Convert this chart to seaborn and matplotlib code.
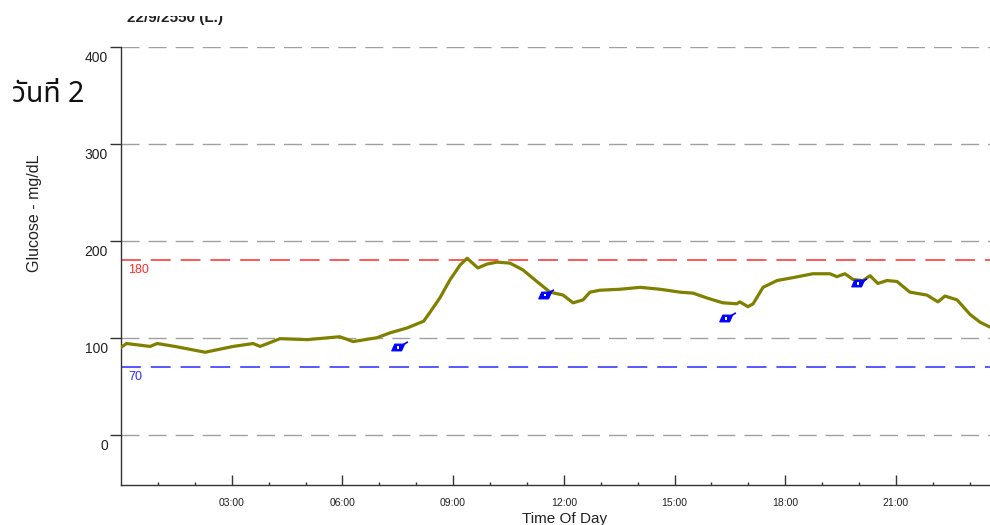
import numpy as np
import pandas as pd
import matplotlib
matplotlib.use("Agg")
import matplotlib.pyplot as plt
import matplotlib.transforms as mtransforms
from matplotlib.path import Path
from matplotlib.patches import Rectangle
import seaborn as sns

# ---- data ----
hours = [0.00, 0.15, 0.79, 0.98, 1.46, 2.28, 3.04, 3.58, 3.77, 4.31, 5.04, 5.93,
         6.29, 6.94, 7.29, 7.75, 8.20, 8.37, 8.64, 8.92, 9.19, 9.38, 9.67, 9.92,
         10.19, 10.54, 10.89, 11.27, 11.63, 11.98, 12.25, 12.52, 12.71, 12.98,
         13.52, 14.07, 14.61, 15.15, 15.50, 15.88, 16.31, 16.69, 16.77, 16.99,
         17.13, 17.40, 17.78, 18.21, 18.75, 19.21, 19.40, 19.62, 19.84, 20.11,
         20.30, 20.51, 20.76, 21.03, 21.38, 21.84, 22.14, 22.33, 22.66, 23.01,
         23.28, 23.55]
glucose = [90, 94, 91, 94, 91, 85, 91, 94, 91, 99, 98, 101,
           96, 100, 105, 110, 117, 126, 141, 160, 175, 182, 172, 176,
           178, 177, 170, 158, 147, 144, 136, 139, 147, 149,
           150, 152, 150, 147, 146, 141, 136, 135, 137, 132,
           135, 152, 159, 162, 166, 166, 163, 166, 160, 159,
           164, 156, 159, 158, 147, 144, 137, 143, 139, 124,
           116, 111]

event_hours = [7.51, 11.49, 16.40, 19.97]
event_glucose = [90, 144, 120, 156]

grid_levels = [0, 100, 200, 300, 400]
yticks = [0, 100, 200, 300, 400]
xtick_hours = [3, 6, 9, 12, 15, 18, 21]
xtick_labels = ["03:00", "06:00", "09:00", "12:00", "15:00", "18:00", "21:00"]
high_limit = 180
low_limit = 70

title_text = "22/9/2550 (L.)"
day_text = "วันที่ 2"
ylabel_text = "Glucose - mg/dL"
xlabel_text = "Time Of Day"

# ---- style ----
sns.set_style("white")
plt.rcParams["font.family"] = ["Liberation Sans", "DejaVu Sans"]

W, H = 990, 525
fig = plt.figure(figsize=(W / 100, H / 100), dpi=100)
ax = fig.add_axes([121 / W, 1 - 485 / H, (990 - 121) / W, (485 - 47) / H])

dash = (0, (13, 6.5))
for g in grid_levels:
    ax.axhline(g, color="#a0a0a0", lw=1.0, ls=dash, zorder=1)
ax.axhline(high_limit, color="#ff2a2a", lw=1.1, ls=dash, zorder=1)
ax.axhline(low_limit, color="#2a2aff", lw=1.1, ls=dash, zorder=1)

df = pd.DataFrame({"hour": hours, "glucose": glucose})
sns.lineplot(data=df, x="hour", y="glucose", ax=ax, color="#808000",
             lw=2.3, zorder=3)

# event marker (pen-like icon): filled slanted body, white hole, small nib
body = Path([(-1.0, -0.5), (0.45, -0.5), (0.9, 0.5), (-0.55, 0.5), (-1.0, -0.5)],
            [Path.MOVETO, Path.LINETO, Path.LINETO, Path.LINETO, Path.CLOSEPOLY])
nib = Path([(0.0, 0.0), (1.0, 0.6)], [Path.MOVETO, Path.LINETO])
ev = pd.DataFrame({"hour": event_hours, "glucose": event_glucose})
sns.scatterplot(data=ev, x="hour", y="glucose", ax=ax, marker=body, s=95,
                color="#0000ff", edgecolor="#0000ff", linewidth=0.8, zorder=4)
sns.scatterplot(data=ev.assign(hour=ev["hour"] + 0.12, glucose=ev["glucose"] + 3),
                x="hour", y="glucose", ax=ax, marker=nib, s=40,
                color="#0000ff", edgecolor="#0000ff", linewidth=1.2, zorder=4)
sns.scatterplot(data=ev, x="hour", y="glucose", ax=ax, marker="s", s=3,
                color="white", edgecolor="none", linewidth=0, zorder=5)

ax.set_xlim(0, 23.55)
ax.set_ylim(-52, 400)

ax.text(0.2, high_limit - 4, str(high_limit), color="#ff2a2a", fontsize=9,
        va="top", ha="left", zorder=2)
ax.text(0.2, low_limit - 4, str(low_limit), color="#2a2aff", fontsize=9,
        va="top", ha="left", zorder=2)

# axes & ticks
for s in ["top", "right"]:
    ax.spines[s].set_visible(False)
for s in ["left", "bottom"]:
    ax.spines[s].set_color("#333333")
    ax.spines[s].set_linewidth(1.0)

ax.set_yticks(yticks)
ax.set_yticklabels([str(v) for v in yticks], fontsize=10, color="#222222")
ax.tick_params(axis="y", left=True, direction="out", length=8, width=1.0,
               color="#333333", pad=1.5)
off = mtransforms.ScaledTranslation(0, -0.095, fig.dpi_scale_trans)
for lab in ax.get_yticklabels():
    lab.set_transform(lab.get_transform() + off)

ax.set_xticks(xtick_hours)
ax.set_xticklabels(xtick_labels, fontsize=7.5, color="#222222",
                   family=["Liberation Sans Narrow", "Liberation Sans", "DejaVu Sans"])
ax.set_xticks([h for h in range(1, 24) if h % 3 != 0], minor=True)
ax.tick_params(axis="x", which="major", bottom=True, direction="in", length=7,
               width=1.0, color="#333333", pad=9)
ax.tick_params(axis="x", which="minor", bottom=True, direction="in", length=2.5,
               width=1.0, color="#333333")
ax.set_xlabel("")
ax.set_ylabel("")

fig.text(35 / W, 1 - 213 / H, ylabel_text, rotation=90, fontsize=11.5,
         ha="center", va="center", color="#222222")
fig.text(565 / W, 1 - 512 / H, xlabel_text, fontsize=11, ha="center", va="top",
         color="#222222")
fig.text(12 / W, 1 - 94 / H, day_text, fontsize=20.5, ha="left", va="center",
         color="#111111",
         family=["Noto Sans Thai", "Noto Sans", "DejaVu Sans"])
fig.text(175 / W, 1 - 18 / H, title_text, fontsize=11, fontweight="bold",
         ha="center", va="center", color="#222222")
fig.patches.append(Rectangle((0, 1 - 16 / H), 1, 16 / H, transform=fig.transFigure,
                             facecolor="white", edgecolor="none", zorder=10))

fig.savefig("out.png", dpi=100)
